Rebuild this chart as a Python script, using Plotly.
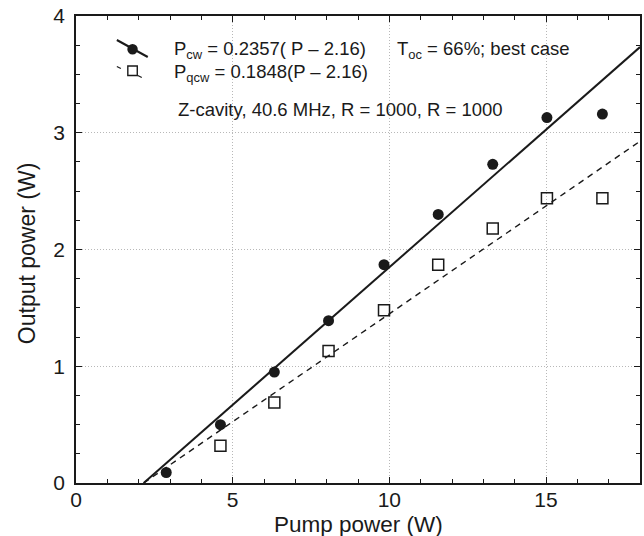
import plotly.graph_objects as go

# ---- data ----
pump_cw = [2.88, 4.61, 6.33, 8.06, 9.83, 11.56, 13.30, 15.03, 16.80]
p_cw = [0.09, 0.50, 0.95, 1.39, 1.87, 2.30, 2.73, 3.13, 3.16]
pump_qcw = [4.61, 6.33, 8.06, 9.83, 11.56, 13.30, 15.03, 16.80]
p_qcw = [0.32, 0.69, 1.13, 1.48, 1.87, 2.18, 2.44, 2.44]
slope_cw = 0.2357
slope_qcw = 0.1848
threshold = 2.16
fit_x = [threshold, 18.0]
x_ticks = [0, 5, 10, 15]
y_ticks = [0, 1, 2, 3, 4]

FONT = "Liberation Sans, Arial, Helvetica, sans-serif"
INK = "#1a1a1a"

W, H = 644, 536
L, R, T, B = 76, 2, 16, 53
PW, PH = W - L - R, H - T - B


def xp(px):
    return (px - L) / PW


def yp(py):
    return (H - B - py) / PH


fig = go.Figure()

fig.add_trace(go.Scatter(
    x=fit_x, y=[slope_cw * (v - threshold) for v in fit_x], mode="lines",
    line=dict(color=INK, width=2), showlegend=False, hoverinfo="skip"))
fig.add_trace(go.Scatter(
    x=fit_x, y=[slope_qcw * (v - threshold) for v in fit_x], mode="lines",
    line=dict(color=INK, width=1.4, dash="6px,5px"), showlegend=False, hoverinfo="skip"))
fig.add_trace(go.Scatter(
    x=pump_cw, y=p_cw, mode="markers",
    marker=dict(symbol="circle", size=11, color=INK, line=dict(width=0)),
    showlegend=False))
fig.add_trace(go.Scatter(
    x=pump_qcw, y=p_qcw, mode="markers",
    marker=dict(symbol="square-open", size=11, color=INK, line=dict(width=1.5)),
    showlegend=False))

axis_common = dict(
    showline=True, linecolor=INK, linewidth=1.5, mirror="ticks",
    ticks="inside", ticklen=6, tickwidth=1.2, tickcolor=INK,
    showgrid=True, gridcolor="#b8b8b8", gridwidth=1, griddash="1px,2px",
    zeroline=False, tickfont=dict(family=FONT, size=21, color=INK),
)

fig.update_xaxes(range=[0, 18], tickvals=x_ticks, ticktext=[str(v) for v in x_ticks],
                 minor=dict(ticks="inside", ticklen=4, dtick=1, tick0=0, tickcolor=INK, showgrid=False),
                 ticklabelstandoff=-3, **axis_common)
fig.update_yaxes(range=[0, 4], tickvals=y_ticks, ticktext=[str(v) for v in y_ticks],
                 minor=dict(ticks="inside", ticklen=4, dtick=0.25, tick0=0, tickcolor=INK, showgrid=False),
                 ticklabelstandoff=5, **axis_common)

TXT = 18.5
annotations = [
    dict(text="Pump power (W)", x=xp(359), y=yp(524), xref="paper", yref="paper",
         xanchor="center", yanchor="middle", showarrow=False,
         font=dict(family=FONT, size=22.5, color=INK)),
    dict(text="Output power (W)", x=xp(27), y=yp(253), xref="paper", yref="paper",
         xanchor="center", yanchor="middle", showarrow=False, textangle=-90,
         font=dict(family=FONT, size=23, color=INK)),
    dict(text="P<sub>cw</sub> = 0.2357( P – 2.16)", x=xp(172), y=yp(50), xref="paper", yref="paper",
         xanchor="left", yanchor="middle", showarrow=False,
         font=dict(family=FONT, size=TXT, color=INK)),
    dict(text="T<sub>oc</sub> = 66%; best case", x=xp(396), y=yp(50), xref="paper", yref="paper",
         xanchor="left", yanchor="middle", showarrow=False,
         font=dict(family=FONT, size=TXT, color=INK)),
    dict(text="P<sub>qcw</sub> = 0.1848(P – 2.16)", x=xp(172), y=yp(73), xref="paper", yref="paper",
         xanchor="left", yanchor="middle", showarrow=False,
         font=dict(family=FONT, size=TXT, color=INK)),
    dict(text="Z-cavity, 40.6 MHz, R = 1000, R = 1000", x=xp(176), y=yp(110), xref="paper", yref="paper",
         xanchor="left", yanchor="middle", showarrow=False,
         font=dict(family=FONT, size=TXT, color=INK)),
]

shapes = [
    # legend sample 1: solid slanted line with filled circle
    dict(type="line", xref="paper", yref="paper", x0=xp(117), y0=yp(40), x1=xp(148), y1=yp(57),
         line=dict(color=INK, width=2)),
    dict(type="circle", xref="paper", yref="paper", x0=xp(127.5), y0=yp(54.5), x1=xp(138), y1=yp(44),
         fillcolor=INK, line=dict(color=INK, width=0)),
    # legend sample 2: dashed fragments with open square
    dict(type="line", xref="paper", yref="paper", x0=xp(117), y0=yp(66.5), x1=xp(121), y1=yp(68.5),
         line=dict(color=INK, width=1.3)),
    dict(type="line", xref="paper", yref="paper", x0=xp(138), y0=yp(75.5), x1=xp(142), y1=yp(77.5),
         line=dict(color=INK, width=1.3)),
    dict(type="rect", xref="paper", yref="paper", x0=xp(128), y0=yp(75.5), x1=xp(137.5), y1=yp(66),
         fillcolor="white", line=dict(color=INK, width=1.4)),
]

fig.update_layout(
    width=W, height=H, autosize=False,
    margin=dict(l=L, r=R, t=T, b=B, pad=0),
    paper_bgcolor="white", plot_bgcolor="white",
    font=dict(family=FONT, color=INK),
    annotations=annotations, shapes=shapes,
    showlegend=False,
)

fig.write_html("out.html")
